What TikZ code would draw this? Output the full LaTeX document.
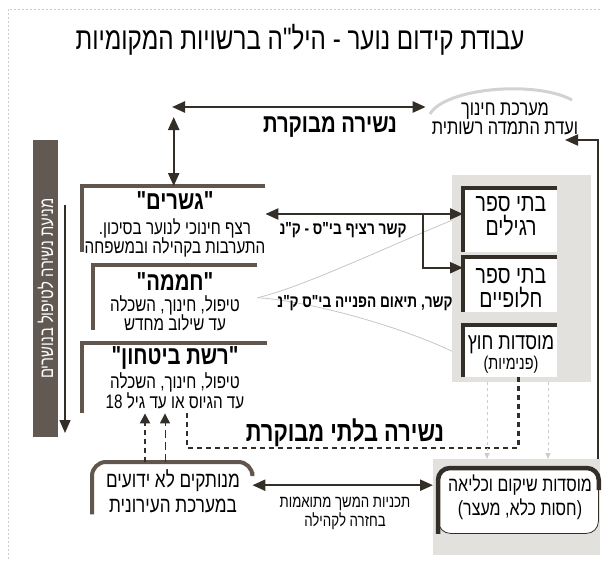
\documentclass[tikz,border=0pt]{standalone}
\usepackage{fontspec}
\newfontfamily\heb[Script=Hebrew,FakeStretch=0.78]{Liberation Sans}
\TeXXeTstate=1
\usetikzlibrary{arrows.meta,positioning}

\newcommand\rl[1]{\beginR#1\endR}

\definecolor{bracketgray}{RGB}{96,86,78}
\definecolor{boxdark}{RGB}{52,46,40}
\definecolor{panelgray}{RGB}{226,225,221}
\definecolor{bargray}{RGB}{98,89,83}

\tikzset{
  txt/.style={font=\heb\fontsize{19.5}{21}\selectfont, inner sep=0pt},
  head/.style={font=\heb\bfseries\fontsize{26}{28}\selectfont, inner sep=0pt},
  schooltxt/.style={font=\heb\fontsize{25}{28}\selectfont, inner sep=0pt},
  smalllabel/.style={font=\heb\bfseries\fontsize{17.5}{19}\selectfont, inner sep=0pt},
  boxframe/.style={inner sep=0pt, anchor=north west},
  bracket/.style={line width=4pt, draw=bracketgray},
  darkbracket/.style={line width=4.5pt, draw=boxdark},
  bigarrow/.style={line width=2.4pt, draw=boxdark},
  darkdash/.style={line width=2.6pt, draw=boxdark, dash pattern=on 5pt off 4pt},
  faint/.style={draw=gray!45, line width=0.8pt},
  faintdash/.style={draw=gray!40, line width=0.8pt, dash pattern=on 3pt off 3pt,
    -{Triangle[length=6pt,width=5pt]}},
}

\begin{document}
\begin{tikzpicture}[x=1pt, y=-1pt, >={Triangle[length=13pt,width=11pt]},
    line join=miter]
    \useasboundingbox (0,0) rectangle (608,562);

    % Frame and title
    \draw[gray!40, line width=0.6pt, dash pattern=on 2pt off 2pt] (600,9) -- (8,9) -- (8,560);
    \node[font=\heb\fontsize{31}{34}\selectfont] (title) at (300,40)
        {\rl{עבודת קידום נוער - היל"ה ברשויות המקומיות}};

    % Top right
    \draw[gray!35, line width=3pt] (430,114) .. controls (445,88) and (535,80) .. (572,100);
    \node[txt, align=center, font=\heb\fontsize{21}{19}\selectfont] (maarechet) at (505,119)
        {\rl{מערכת חינוך}\\\rl{ועדת התמדה רשותית}};

    % Left bar
    \node[fill=bargray, rotate=90, minimum width=297pt, minimum height=25pt, inner sep=0pt,
        text=white, font=\heb\fontsize{19}{21}\selectfont] (leftbar) at (45.5,288.5)
        {\rl{מניעת נשירה לטיפול בנושרים}};
    \coordinate (barA) at (65,205);
    \coordinate (barB) at (65,433);
    \draw[->, line width=1.3pt, draw=boxdark] (barA) -- (barB);

    % Left boxes
    \node[boxframe, minimum width=183pt, minimum height=66pt] (gsharim) at (82,186) {};
    \node[boxframe, minimum width=164pt, minimum height=65pt] (hamama) at (93,265) {};
    \node[boxframe, minimum width=185pt, minimum height=70pt] (reshet) at (82,343) {};
    \foreach \b in {gsharim,hamama,reshet}
        \draw[bracket] (\b.north east) -- (\b.north west) -- (\b.south west);

    \node[head] (gsharimhead) at (175,201) {\rl{"גשרים"}};
    \node[txt] (gsharimA) at (175,228) {\rl{רצף חינוכי לנוער בסיכון.}};
    \node[txt] (gsharimB) at (175,247) {\rl{התערבות בקהילה ובמשפחה}};
    \node[head] (hamamahead) at (175,282) {\rl{"חממה"}};
    \node[txt] (hamamaA) at (175,305) {\rl{טיפול, חינוך, השכלה}};
    \node[txt] (hamamaB) at (175,323) {\rl{עד שילוב מחדש}};
    \node[head] (reshethead) at (175,358) {\rl{"רשת ביטחון"}};
    \node[txt] (reshetA) at (175,382) {\rl{טיפול, חינוך, השכלה}};
    \node[txt] (reshetB) at (175,401) {\rl{עד הגיוס או עד גיל \beginL18\endL}};

    % Right panel with schools
    \node[boxframe, fill=panelgray, minimum width=139pt, minimum height=207pt] (schoolpanel) at (452,175) {};
    \node[boxframe, fill=white, minimum width=94pt, minimum height=64pt] (regilim) at (463,188) {};
    \node[boxframe, fill=white, minimum width=94pt, minimum height=55pt] (chalufiim) at (463,257) {};
    \node[boxframe, fill=white, minimum width=94pt, minimum height=52pt] (chutz) at (463,325) {};
    \foreach \b in {regilim,chalufiim,chutz}
        \draw[darkbracket] (\b.north east) -- (\b.north west) -- (\b.south west);

    \node[schooltxt] (regilimA) at (511,204) {\rl{בתי ספר}};
    \node[schooltxt] (regilimB) at (511,226) {\rl{רגילים}};
    \node[schooltxt] (chalufiimA) at (511,276) {\rl{בתי ספר}};
    \node[schooltxt] (chalufiimB) at (511,298) {\rl{חלופיים}};
    \node[schooltxt, font=\heb\fontsize{23}{26}\selectfont] (chutzA) at (511,345) {\rl{מוסדות חוץ}};
    \node[txt, font=\heb\fontsize{18.5}{20}\selectfont] (chutzB) at (511,365) {\rl{(פנימיות)}};

    % Faint funnel from "hamama" to the schools
    \draw[faint] (hamama.east) .. controls (300,288) and (380,250) .. (schoolpanel.west |- regilim.west);
    \draw[faint] (hamama.east) .. controls (300,300) and (390,322) .. (schoolpanel.west |- chutz.center);

    % Top controlled dropout
    \coordinate (topL) at (172,107);
    \coordinate (vtop) at (0,117);
    \draw[bigarrow, <->] (topL) -- ([xshift=-6pt]topL -| maarechet.west);
    \draw[bigarrow, <->] (gsharim.north |- vtop) -- (gsharim.north);
    \node[head] (controlled) at (330,127) {\rl{נשירה מבוקרת}};

    % School links
    \coordinate (kesher) at (0,214);
    \coordinate (branch) at (423,214);
    \draw[bigarrow, <->] (gsharim.east |- kesher) -- (regilim.west |- kesher);
    \draw[bigarrow, ->] (branch) |- ([yshift=17pt]chalufiim.west);
    \node[smalllabel] (kesherlabel) at (343,230) {\rl{קשר רציף בי"ס - ק"נ}};
    \node[smalllabel] (tiumlabel) at (365,303) {\rl{קשר, תיאום הפנייה בי"ס ק"נ}};

    % Bottom boxes
    \node[boxframe, fill=panelgray, minimum width=167pt, minimum height=96pt] (rehabpanel) at (433,459) {};
    \node[boxframe, fill=white, draw=boxdark, line width=0.8pt, rounded corners=12pt,
        minimum width=160pt, minimum height=65pt] (shikum) at (438,468) {};
    \draw[darkbracket, rounded corners=12pt] (shikum.south west) -- (shikum.north west)
        -- (shikum.north east) -- ([yshift=-22pt]shikum.north east);
    \node[txt, font=\heb\fontsize{20.5}{22}\selectfont] (shikumA) at (520,485) {\rl{מוסדות שיקום וכליאה}};
    \node[txt, font=\heb\fontsize{20.5}{22}\selectfont] (shikumB) at (520,509) {\rl{(חסות כלא, מעצר)}};

    \node[boxframe, minimum width=160pt, minimum height=52pt] (menutakim) at (92,462) {};
    \draw[bracket, rounded corners=14pt] (menutakim.south west) -- (menutakim.north west)
        -- (menutakim.north east) -- ([yshift=-10pt]menutakim.north east);
    \node[txt, font=\heb\fontsize{22}{24}\selectfont] (menutakimA) at (173,481) {\rl{מנותקים לא ידועים}};
    \node[txt, font=\heb\fontsize{22}{24}\selectfont] (menutakimB) at (173,506) {\rl{במערכת העירונית}};

    % Uncontrolled dropout
    \coordinate (dashleft) at (187,448);
    \draw[darkdash] ([xshift=8pt]chutz.south) |- (dashleft) -- (dashleft |- reshet.south);
    \node[head, font=\heb\bfseries\fontsize{28}{30}\selectfont] (uncontrolled) at (345,433) {\rl{נשירה בלתי מבוקרת}};
    \coordinate (upA) at (145,0);
    \coordinate (upB) at (165,0);
    \draw[darkdash, line width=2.2pt, -{Triangle[length=10pt,width=10pt]}] (upA |- menutakim.north) -- (upA |- reshet.south);
    \draw[draw=boxdark, line width=1pt, dash pattern=on 8pt off 4pt, -{Triangle[length=10pt,width=10pt]}] (upB |- menutakim.north) -- (upB |- reshet.south);

    \draw[faintdash] (schoolpanel.south -| 487,0) -- (rehabpanel.north -| 487,0);
    \draw[faintdash] (schoolpanel.south -| 548,0) -- (rehabpanel.north -| 548,0);

    % Back to the community
    \draw[bigarrow, <->] ([yshift=3pt]menutakim.east) -- ([yshift=3pt]menutakim.east -| rehabpanel.west);
    \node[txt, font=\heb\fontsize{17}{19}\selectfont] (hemshekA) at (345,504) {\rl{תכניות המשך מתואמות}};
    \node[txt, font=\heb\fontsize{17}{19}\selectfont] (hemshekB) at (345,521) {\rl{בחזרה לקהילה}};

    % Return to the education system
    \coordinate (retend) at (565,140);
    \draw[line width=2pt, draw=boxdark, ->] ([xshift=-2pt]rehabpanel.north east) |- (retend);
\end{tikzpicture}
\end{document}
